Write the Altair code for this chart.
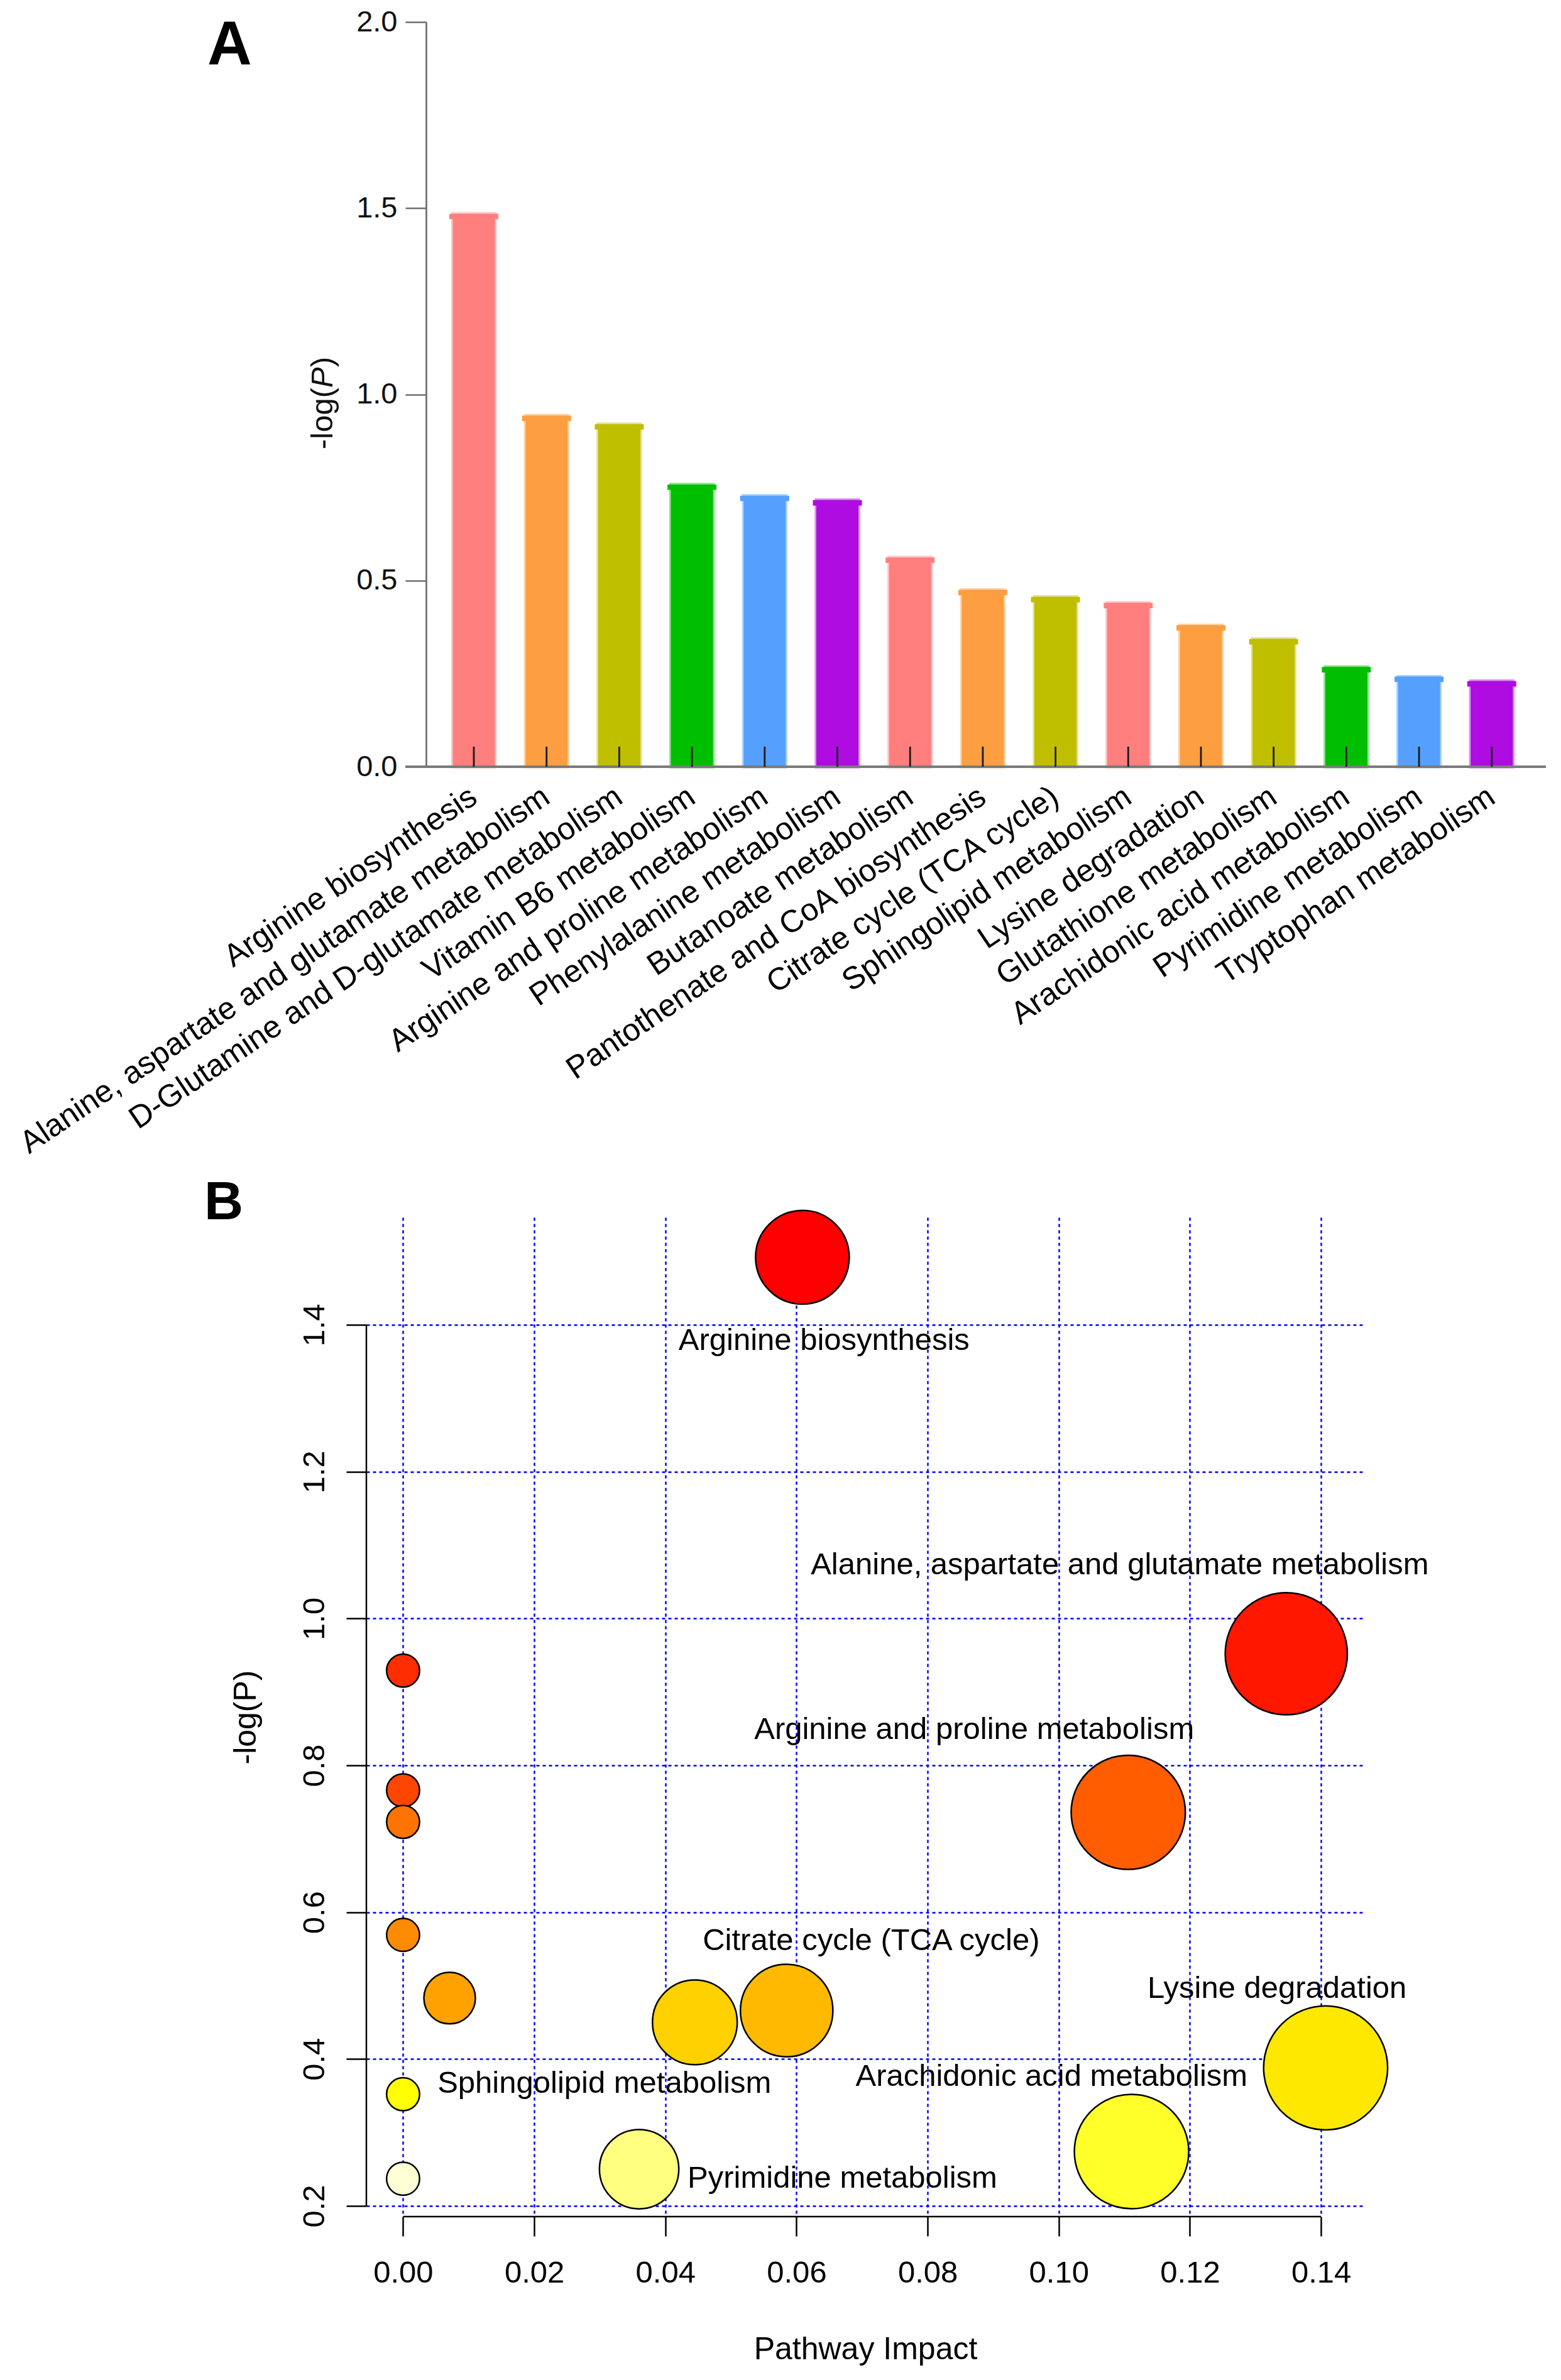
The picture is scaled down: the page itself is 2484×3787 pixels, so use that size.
import altair as alt
import pandas as pd

FONT = "Liberation Sans"

# ---------------- data ----------------
pathways = [
    "Arginine biosynthesis",
    "Alanine, aspartate and glutamate metabolism",
    "D-Glutamine and D-glutamate metabolism",
    "Vitamin B6 metabolism",
    "Arginine and proline metabolism",
    "Phenylalanine metabolism",
    "Butanoate metabolism",
    "Pantothenate and CoA biosynthesis",
    "Citrate cycle (TCA cycle)",
    "Sphingolipid metabolism",
    "Lysine degradation",
    "Glutathione metabolism",
    "Arachidonic acid metabolism",
    "Pyrimidine metabolism",
    "Tryptophan metabolism",
]
# panel A: -log(P) bar heights
bar_neglogp = [1.485, 0.943, 0.920, 0.758, 0.728, 0.716, 0.562, 0.475,
               0.456, 0.440, 0.380, 0.343, 0.268, 0.242, 0.230]
bar_colors = ["#FF7F7F", "#FD9F40", "#BFBF00", "#00BE00", "#55A0FF", "#AE0CE1",
              "#FF7F7F", "#FD9F40", "#BFBF00", "#FF7F7F", "#FD9F40", "#BFBF00",
              "#00BE00", "#55A0FF", "#AE0CE1"]
a_ticks = [0.0, 0.5, 1.0, 1.5, 2.0]
a_title_parts = ["-log(", "P", " )"]
a_title_styles = ["normal", "italic", "normal"]

# panel B: pathway impact vs -log(P)
impact = [0.0609, 0.1347, 0.0, 0.0, 0.1106, 0.0, 0.0, 0.0071,
          0.0585, 0.0445, 0.1407, 0.0, 0.1111, 0.0360, 0.0]
bubble_neglogp = [1.492, 0.952, 0.929, 0.766, 0.736, 0.723, 0.569, 0.483,
                  0.466, 0.450, 0.388, 0.352, 0.274, 0.250, 0.237]
heat_colors = ["#FF0000", "#FF1700", "#FF2E00", "#FF4600", "#FF5D00", "#FF7400",
               "#FF8B00", "#FFA200", "#FFB900", "#FFD100", "#FFE800", "#FFFF00",
               "#FFFF2A", "#FFFF80", "#FFFFD5"]
b_xticks = [0.0, 0.02, 0.04, 0.06, 0.08, 0.10, 0.12, 0.14]
b_yticks = [0.2, 0.4, 0.6, 0.8, 1.0, 1.2, 1.4]

label_names = ["Arginine biosynthesis", "Alanine, aspartate and glutamate metabolism",
               "Arginine and proline metabolism", "Citrate cycle (TCA cycle)",
               "Lysine degradation", "Arachidonic acid metabolism",
               "Sphingolipid metabolism", "Pyrimidine metabolism"]
label_x = [0.0642, 0.1093, 0.0871, 0.0714, 0.1333, 0.0989, 0.0307, 0.0670]
label_y = [1.379, 1.073, 0.849, 0.561, 0.496, 0.376, 0.367, 0.238]

# ---------------- panel A ----------------
WA, HA = 1877, 1185
dfA = pd.DataFrame({"pathway": pathways, "value": bar_neglogp})

xA = alt.X("pathway:N", sort=pathways,
           scale=alt.Scale(paddingInner=0.421, paddingOuter=0.822, align=0.723),
           axis=alt.Axis(title=None, labelAngle=-34, labelAlign="right",
                         labelBaseline="top", labelFontSize=50, labelFont=FONT,
                         labelColor="#000000", labelPadding=22, labelOffset=-14,
                         labelLimit=3000, labelOverlap=False, ticks=False,
                         tickSize=0, domain=False))
yA = alt.Y("value:Q", scale=alt.Scale(domain=[0, 2], nice=False),
           axis=alt.Axis(values=a_ticks, format=".1f", offset=-95, grid=False,
                         domainColor="#6e6e6e", domainWidth=2.7,
                         tickColor="#6e6e6e", tickWidth=2.7, tickSize=33,
                         labelFontSize=47, labelFont=FONT, labelColor="#111111",
                         labelPadding=13, title=None))
colA = alt.Color("pathway:N", scale=alt.Scale(domain=pathways, range=bar_colors), legend=None)

bars = alt.Chart(dfA).mark_bar(strokeWidth=5.4, strokeOpacity=0.45, fillOpacity=1).encode(
    x=xA, y=yA, fill=colA,
    stroke=alt.Stroke("pathway:N", scale=alt.Scale(domain=pathways, range=bar_colors), legend=None))
caps = alt.Chart(dfA).mark_tick(thickness=8.7, size=78, yOffset=4.35, opacity=1).encode(
    x=xA, y=yA, color=colA)
tickmarks = alt.Chart(dfA).mark_rule(color="#1a1a1a", strokeWidth=2.8).encode(
    x=xA, y=alt.value(HA), y2=alt.value(HA - 32))
xline = alt.Chart(pd.DataFrame({"k": [0]})).mark_rule(color="#7a7a7a", strokeWidth=4).encode(
    x=alt.value(62), x2=alt.value(WA), y=alt.value(HA))
letterA = alt.Chart(pd.DataFrame({"t": ["A"]})).mark_text(
    font=FONT, fontSize=98, fontWeight="bold", align="left", baseline="top",
    color="#000000").encode(text="t:N", x=alt.value(-253), y=alt.value(-10))

# y-axis title of panel A with an italic P, written as three rotated pieces
title_y_starts = [680, 582, 549]
titleA = [
    alt.Chart(pd.DataFrame({"t": [part]})).mark_text(
        font=FONT, fontSize=49, fontStyle=style, angle=270, align="left",
        baseline="middle", color="#111111").encode(
        text="t:N", x=alt.value(-69), y=alt.value(ys))
    for part, style, ys in zip(a_title_parts, a_title_styles, title_y_starts)
]

panelA = alt.layer(bars, caps, xline, tickmarks, letterA, *titleA).properties(width=WA, height=HA)

# ---------------- panel B ----------------
WB, HB = 1588, 1590
dfB = pd.DataFrame({"route": pathways, "impact": impact, "neglogp": bubble_neglogp})
dfL = pd.DataFrame({"name": label_names, "lx": label_x, "ly": label_y})

grid_kw = dict(grid=True, gridColor="#0000FF", gridDash=[5, 5], gridWidth=2.5, gridOpacity=1)
xB = alt.X("impact:Q", scale=alt.Scale(domain=[-0.0056, 0.1466], nice=False, zero=False),
           axis=alt.Axis(values=b_xticks, format=".2f", domain=False,
                         tickColor="#000000", tickWidth=2.5, tickSize=31,
                         labelFontSize=49, labelFont=FONT, labelColor="#000000",
                         labelPadding=34, title="Pathway Impact", titleFont=FONT,
                         titleFontSize=50, titleFontWeight="normal", titleColor="#000000",
                         titlePadding=72, **grid_kw))
yB = alt.Y("neglogp:Q", scale=alt.Scale(domain=[0.1854, 1.5464], nice=False, zero=False),
           axis=alt.Axis(values=b_yticks, format=".1f", domain=False,
                         tickColor="#000000", tickWidth=2.5, tickSize=32,
                         labelAngle=270, labelAlign="center", labelBaseline="bottom",
                         labelFontSize=49, labelFont=FONT, labelColor="#000000",
                         labelPadding=26, title="-log(P)", titleFont=FONT,
                         titleFontSize=50, titleFontWeight="normal", titleColor="#000000",
                         titlePadding=60, **grid_kw))

bubbles = alt.Chart(dfB).mark_circle(stroke="#000000", strokeWidth=2.5, opacity=1).encode(
    x=xB, y=yB,
    size=alt.Size("impact:Q", scale=alt.Scale(type="pow", exponent=0.74,
                                              domain=[0, 0.1407], range=[2756, 38930]),
                  legend=None),
    color=alt.Color("route:N", scale=alt.Scale(domain=pathways, range=heat_colors), legend=None))
labels = alt.Chart(dfL).mark_text(font=FONT, fontSize=49, color="#000000",
                                  align="center", baseline="middle").encode(
    x=alt.X("lx:Q"), y=alt.Y("ly:Q"), text="name:N")
xaxisB = alt.Chart(pd.DataFrame({"k": [0]})).mark_rule(color="#000000", strokeWidth=2.5).encode(
    x=alt.datum(0.0), x2=alt.datum(0.14), y=alt.value(HB))
yaxisB = alt.Chart(pd.DataFrame({"k": [0]})).mark_rule(color="#000000", strokeWidth=2.5).encode(
    x=alt.value(0), y=alt.datum(0.2), y2=alt.datum(1.4))
letterB = alt.Chart(pd.DataFrame({"t": ["B"]})).mark_text(
    font=FONT, fontSize=86, fontWeight="bold", align="left", baseline="alphabetic",
    color="#000000").encode(text="t:N", x=alt.value(-258), y=alt.value(3))

panelB = alt.layer(bubbles, labels, xaxisB, yaxisB, letterB).properties(width=WB, height=HB)

chart = alt.vconcat(panelA, panelB, spacing=717, bounds="flush").resolve_scale(
    color="independent").configure_view(stroke=None).properties(
    padding={"left": 15, "top": 3, "right": 5, "bottom": 5})

chart.save("out.html", embed_options={"renderer": "svg", "actions": False})
